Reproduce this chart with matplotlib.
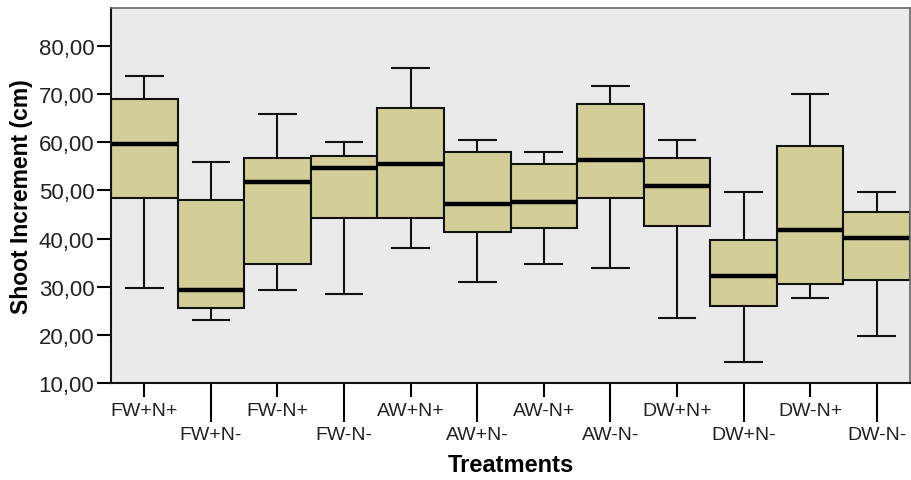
import numpy as np
import matplotlib.pyplot as plt

# treatments and five-number summaries
treatments = ['FW+N+', 'FW+N-', 'FW-N+', 'FW-N-', 'AW+N+', 'AW+N-',
              'AW-N+', 'AW-N-', 'DW+N+', 'DW+N-', 'DW-N+', 'DW-N-']
whis_lo = [29.7, 23.1, 29.3, 28.4, 38.0, 31.0, 34.7, 33.8, 23.4, 14.3, 27.6, 19.7]
q1 = [48.4, 25.5, 34.8, 44.2, 44.2, 41.3, 42.2, 48.4, 42.6, 25.9, 30.6, 31.5]
med = [59.7, 29.3, 51.7, 54.6, 55.5, 47.2, 47.6, 56.3, 50.9, 32.2, 41.8, 40.1]
q3 = [68.9, 48.0, 56.7, 57.1, 67.2, 57.9, 55.5, 68.0, 56.7, 39.7, 59.3, 45.5]
whis_hi = [73.8, 55.9, 65.9, 60.0, 75.5, 60.5, 57.9, 71.7, 60.5, 49.7, 70.1, 49.7]
yticks = [10, 20, 30, 40, 50, 60, 70, 80]

plt.rcParams['font.family'] = ['Liberation Sans', 'DejaVu Sans']

stats = []
for i, name in enumerate(treatments):
    stats.append({'label': name, 'whislo': whis_lo[i], 'q1': q1[i], 'med': med[i],
                  'q3': q3[i], 'whishi': whis_hi[i], 'fliers': []})

fig = plt.figure(figsize=(9.11, 4.81), dpi=100)
ax = fig.add_axes([111 / 911, 97 / 481, 799 / 911, 375 / 481])
ax.set_facecolor('#EAEAEA')

pos = np.arange(1, len(treatments) + 1)
ax.bxp(stats, positions=pos, widths=1.0, capwidths=0.55, patch_artist=True,
       showfliers=False,
       boxprops=dict(facecolor='#D3CE97', edgecolor='#111111', linewidth=1.5),
       medianprops=dict(color='black', linewidth=3.2, solid_capstyle='butt'),
       whiskerprops=dict(color='#111111', linewidth=1.5),
       capprops=dict(color='#111111', linewidth=1.5))

ax.set_xlim(0.5, len(treatments) + 0.5)
ax.set_ylim(10, 87.9)

ax.set_yticks(yticks)
ax.set_yticklabels([f'{v:.2f}'.replace('.', ',') for v in yticks],
                   fontsize=16, color='#222222')
ax.tick_params(axis='y', length=10, width=1.5, pad=2)

# staggered category labels: odd on top row, even on lower row with long ticks
ax.set_xticks(pos[::2])
ax.set_xticklabels(treatments[::2], fontsize=14, color='#222222')
ax.set_xticks(pos[1::2], minor=True)
ax.set_xticklabels(treatments[1::2], minor=True, fontsize=14, color='#222222')
ax.tick_params(axis='x', which='major', length=10, width=1.5, pad=4)
ax.tick_params(axis='x', which='minor', length=28, width=1.5, pad=3)

for s in ['left', 'bottom']:
    ax.spines[s].set_linewidth(1.5)
    ax.spines[s].set_color('#111111')
for s in ['top', 'right']:
    ax.spines[s].set_linewidth(1.2)
    ax.spines[s].set_color('#666666')

ax.set_ylabel('Shoot Increment (cm)', fontsize=16.5, fontweight='bold', labelpad=4)
ax.set_xlabel('Treatments', fontsize=17, fontweight='bold', labelpad=7)

plt.savefig('out.png', dpi=100)
